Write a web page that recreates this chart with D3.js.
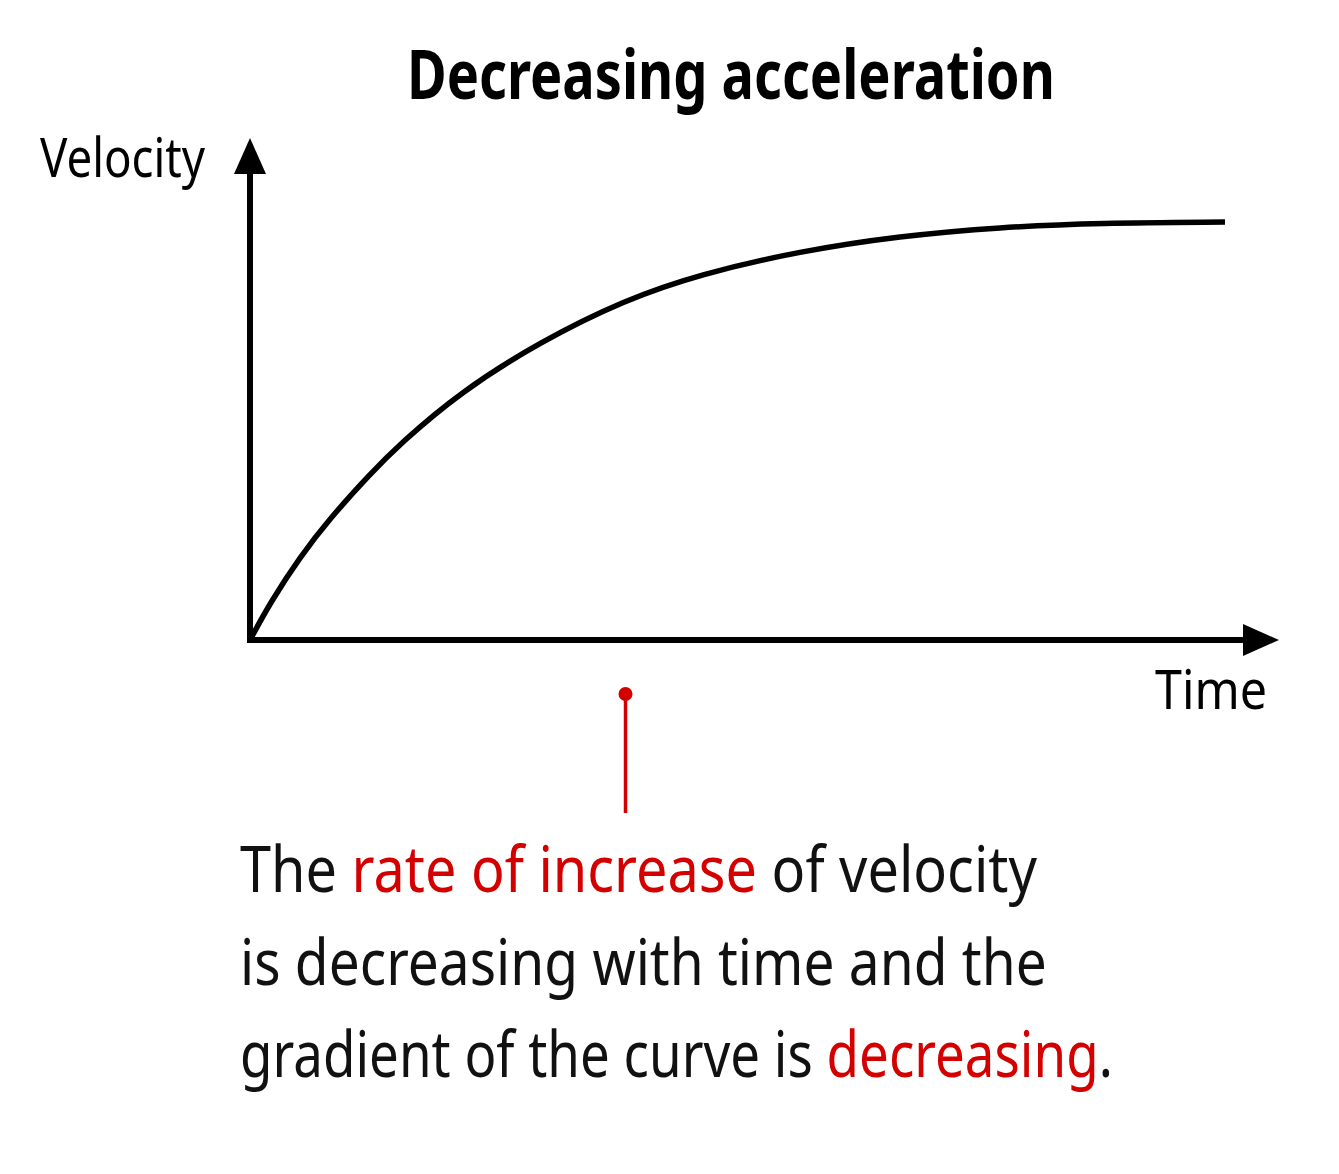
<!DOCTYPE html>
<html>
<head>
<meta charset="utf-8">
<script src="https://cdn.jsdelivr.net/npm/d3@7"></script>
<style>
  body { margin: 0; background: #fff; }
  text { font-family: "Noto Sans", "Open Sans", sans-serif; }
</style>
</head>
<body>
<svg id="svg" width="1339" height="1174"></svg>
<script>
// values (time and velocity in arbitrary units)
var timeVals     = [0, 0.205, 0.513, 0.821, 1.231, 1.538, 2.154, 2.974, 3.846, 4.615, 5.641, 6.667, 7.692, 8.718, 10];
var velocityVals = [0, 0.88, 1.98, 2.90, 3.95, 4.67, 5.90, 7.10, 8.10, 8.71, 9.26, 9.62, 9.83, 9.93, 9.95];

var titleText = "Decreasing acceleration";
var yLabel = "Velocity";
var xLabel = "Time";

// caption lines, each a list of [text, highlighted]
var captionLines = [
  [["The ", false], ["rate of increase", true], [" of velocity", false]],
  [["is decreasing with time and the", false]],
  [["gradient of the curve is ", false], ["decreasing", true], [".", false]]
];

var svg = d3.select("#svg");
var red = "#d40000";

var x = d3.scaleLinear().domain([0, 10]).range([250, 1225]);
var y = d3.scaleLinear().domain([0, 10]).range([640, 220]);

// squeeze a text element to a target width (the original font is narrow)
function fit(sel, x0, y0, w) {
  var bw = sel.node().getComputedTextLength();
  sel.attr("transform", "translate(" + x0 + "," + y0 + ") scale(" + (w / bw) + ",1)");
}

// axes
svg.append("line")
  .attr("x1", x(0)).attr("y1", y(0))
  .attr("x2", x(0)).attr("y2", 172)
  .attr("stroke", "#000").attr("stroke-width", 6);
svg.append("line")
  .attr("x1", x(0) - 3).attr("y1", y(0))
  .attr("x2", 1245).attr("y2", y(0))
  .attr("stroke", "#000").attr("stroke-width", 6);
svg.append("path")
  .attr("d", "M" + x(0) + ",138 L" + (x(0) + 16) + ",174 L" + (x(0) - 16) + ",174 Z")
  .attr("fill", "#000");
svg.append("path")
  .attr("d", "M1279," + y(0) + " L1243," + (y(0) - 16) + " L1243," + (y(0) + 16) + " Z")
  .attr("fill", "#000");

// curve
var pts = timeVals.map(function (t, i) { return [t, velocityVals[i]]; });
var line = d3.line()
  .x(function (d) { return x(d[0]); })
  .y(function (d) { return y(d[1]); })
  .curve(d3.curveBasis);
svg.append("path")
  .datum(pts)
  .attr("d", line)
  .attr("fill", "none")
  .attr("stroke", "#000")
  .attr("stroke-width", 5.5);

// labels
var t = svg.append("text").attr("font-size", 68).attr("font-weight", "bold").text(titleText);
fit(t, 407, 99, 648);

var yl = svg.append("text").attr("font-size", 54).text(yLabel);
fit(yl, 40, 177, 165);

var xl = svg.append("text").attr("font-size", 55).text(xLabel);
fit(xl, 1155, 709, 112);

// red pointer
svg.append("line")
  .attr("x1", 625.5).attr("y1", 694).attr("x2", 625.5).attr("y2", 813)
  .attr("stroke", red).attr("stroke-width", 3.5);
svg.append("circle")
  .attr("cx", 625.5).attr("cy", 694).attr("r", 7)
  .attr("fill", red);

// caption
var capBase = [892, 985, 1077];
var capWidth = [797, 807, 873];
captionLines.forEach(function (parts, i) {
  var txt = svg.append("text").attr("font-size", 64).attr("fill", "#111");
  parts.forEach(function (p) {
    txt.append("tspan")
      .attr("fill", p[1] ? red : "#111")
      .text(p[0]);
  });
  txt.attr("style", "white-space: pre");
  fit(txt, 240, capBase[i], capWidth[i]);
});
</script>
</body>
</html>
